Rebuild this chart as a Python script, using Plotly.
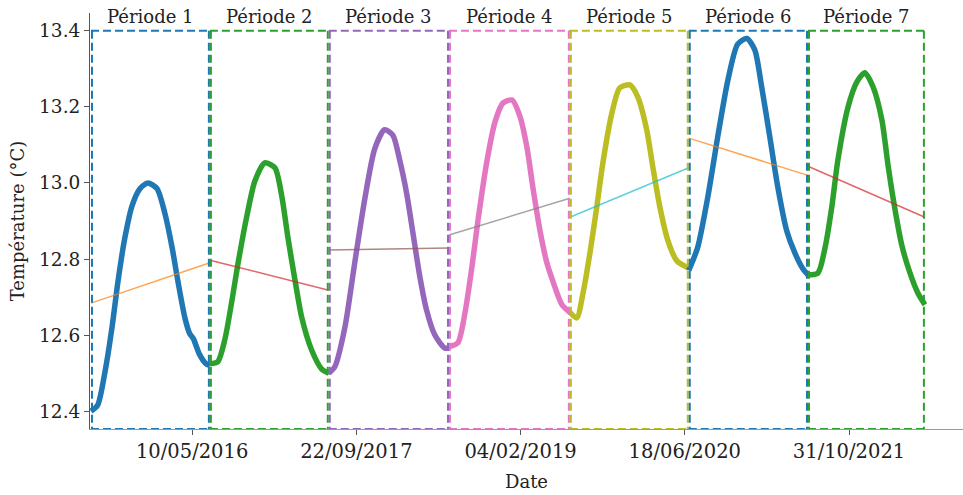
import pandas as pd
import plotly.graph_objects as go

# ---- data -------------------------------------------------------------
period_labels = ["Période 1", "Période 2", "Période 3", "Période 4",
                 "Période 5", "Période 6", "Période 7"]
period_bounds = ["2015-07-07", "2016-07-03", "2017-06-30", "2018-07-01",
                 "2019-07-04", "2020-06-30", "2021-06-28", "2022-06-19"]

# days since the start of each period, and temperature (°C)
p1_days = [0, 20, 42, 64, 82, 103, 125, 149, 173, 201, 225, 247, 265, 286, 300, 312, 330, 350, 362]
p1_temp = [12.40, 12.415, 12.50, 12.62, 12.74, 12.855, 12.94, 12.985, 13.00, 12.985, 12.92,
           12.83, 12.74, 12.645, 12.605, 12.59, 12.55, 12.525, 12.52]
p2_days = [0, 24, 46, 67, 85, 113, 137, 167, 198, 219, 237, 259, 280, 310, 341, 362]
p2_temp = [12.525, 12.53, 12.59, 12.69, 12.785, 12.915, 13.005, 13.053, 13.04, 12.965, 12.86,
           12.745, 12.645, 12.56, 12.51, 12.50]
p3_days = [0, 18, 49, 79, 110, 140, 170, 195, 216, 237, 256, 277, 298, 323, 353, 366]
p3_temp = [12.50, 12.516, 12.62, 12.79, 12.96, 13.09, 13.14, 13.126, 13.06, 12.973, 12.87,
           12.755, 12.665, 12.60, 12.566, 12.566]
p4_days = [0, 27, 49, 70, 88, 116, 140, 164, 192, 216, 237, 256, 277, 298, 317, 344, 368]
p4_temp = [12.57, 12.58, 12.66, 12.78, 12.90, 13.06, 13.16, 13.21, 13.218, 13.175, 13.095,
           12.985, 12.875, 12.79, 12.74, 12.68, 12.66]
p5_days = [0, 21, 40, 61, 82, 100, 128, 152, 183, 207, 234, 253, 274, 298, 326, 362]
p5_temp = [12.66, 12.645, 12.71, 12.815, 12.937, 13.05, 13.184, 13.25, 13.258, 13.226, 13.14,
           13.04, 12.937, 12.85, 12.795, 12.776]
p6_days = [0, 27, 58, 88, 119, 149, 177, 201, 222, 247, 271, 298, 323, 347, 363]
p6_temp = [12.77, 12.83, 12.963, 13.12, 13.27, 13.365, 13.38, 13.35, 13.253, 13.12, 12.99,
           12.875, 12.816, 12.775, 12.758]
p7_days = [0, 30, 52, 73, 91, 122, 149, 173, 198, 225, 244, 265, 286, 310, 335, 356]
p7_temp = [12.758, 12.763, 12.83, 12.94, 13.06, 13.20, 13.266, 13.29, 13.253, 13.166, 13.045,
           12.93, 12.835, 12.765, 12.71, 12.68]

# linear trend of each period: value at period start and at period end
trend_start = [12.684, 12.797, 12.824, 12.863, 12.91, 13.118, 13.044]
trend_end = [12.79, 12.718, 12.829, 12.96, 13.04, 13.02, 12.91]

tick_dates = ["2016-05-10", "2017-09-22", "2019-02-04", "2020-06-18", "2021-10-31"]
tick_labels = ["10/05/2016", "22/09/2017", "04/02/2019", "18/06/2020", "31/10/2021"]

# ---- styling ----------------------------------------------------------
tab10 = ["#1f77b4", "#ff7f0e", "#2ca02c", "#d62728", "#9467bd",
         "#8c564b", "#e377c2", "#7f7f7f", "#bcbd22", "#17becf"]
FONT = "DejaVu Serif"
Y_LO, Y_HI, BOX_TOP = 12.353, 13.447, 13.4
DASH = "8px,4px"

series = [(p1_days, p1_temp), (p2_days, p2_temp), (p3_days, p3_temp), (p4_days, p4_temp),
          (p5_days, p5_temp), (p6_days, p6_temp), (p7_days, p7_temp)]
bounds = pd.to_datetime(period_bounds)

fig = go.Figure()
shapes, annotations = [], []
cidx = 0
for i, (days, temps) in enumerate(series):
    curve_col = tab10[cidx % 10]
    trend_col = tab10[(cidx + 1) % 10]
    cidx += 2
    start, end = bounds[i], bounds[i + 1]
    x = start + pd.to_timedelta(days, unit="D")
    fig.add_trace(go.Scatter(x=x, y=temps, mode="lines",
                             line=dict(color=curve_col, width=5.5, shape="spline", smoothing=0.7),
                             showlegend=False, hoverinfo="skip"))
    fig.add_trace(go.Scatter(x=[start, end], y=[trend_start[i], trend_end[i]], mode="lines",
                             line=dict(color=trend_col, width=1.5), opacity=0.7,
                             showlegend=False, hoverinfo="skip"))

    # dashed frame of the period: horizontal edges left->right, vertical edges top->bottom
    edge = dict(color=curve_col, width=2, dash=DASH)
    for yv in (BOX_TOP, Y_LO):
        shapes.append(dict(type="line", xref="x", yref="y", x0=start, x1=end,
                           y0=yv, y1=yv, layer="above", line=edge))
    for xv, off in ((start, 1), (end, -1)):
        shapes.append(dict(type="line", xref="x", yref="y", xsizemode="pixel",
                           xanchor=xv, x0=off, x1=off, y0=BOX_TOP, y1=Y_LO,
                           layer="above", line=edge))

    mid = start + (end - start) / 2
    annotations.append(dict(x=mid, y=13.437, xref="x", yref="y", text=period_labels[i],
                            showarrow=False, yanchor="middle",
                            font=dict(family=FONT, size=18, color="#222")))

fig.update_layout(
    width=963, height=495,
    margin=dict(l=90, r=0, t=13, b=66),
    paper_bgcolor="white", plot_bgcolor="white",
    shapes=shapes, annotations=annotations,
    font=dict(family=FONT, size=18, color="#222"),
)
fig.update_xaxes(
    range=["2015-07-04", "2022-10-13"],
    tickvals=tick_dates, ticktext=tick_labels,
    ticks="outside", ticklen=5, tickcolor="#555",
    showline=True, linecolor="#999", linewidth=1,
    showgrid=False, zeroline=False,
    tickfont=dict(family=FONT, size=19.5, color="#222"),
    title=dict(text="Date", standoff=12, font=dict(family=FONT, size=18, color="#222")),
)
fig.update_yaxes(
    range=[Y_LO, Y_HI],
    tickvals=[12.4, 12.6, 12.8, 13.0, 13.2, 13.4],
    tickformat=".1f",
    ticks="outside", ticklen=5, tickcolor="#555",
    showline=True, linecolor="#555", linewidth=1,
    showgrid=False, zeroline=False,
    tickfont=dict(family=FONT, size=18.5, color="#222"),
    title=dict(text="Température (°C)", standoff=9, font=dict(family=FONT, size=18, color="#222")),
)

fig.write_html("out.html")
